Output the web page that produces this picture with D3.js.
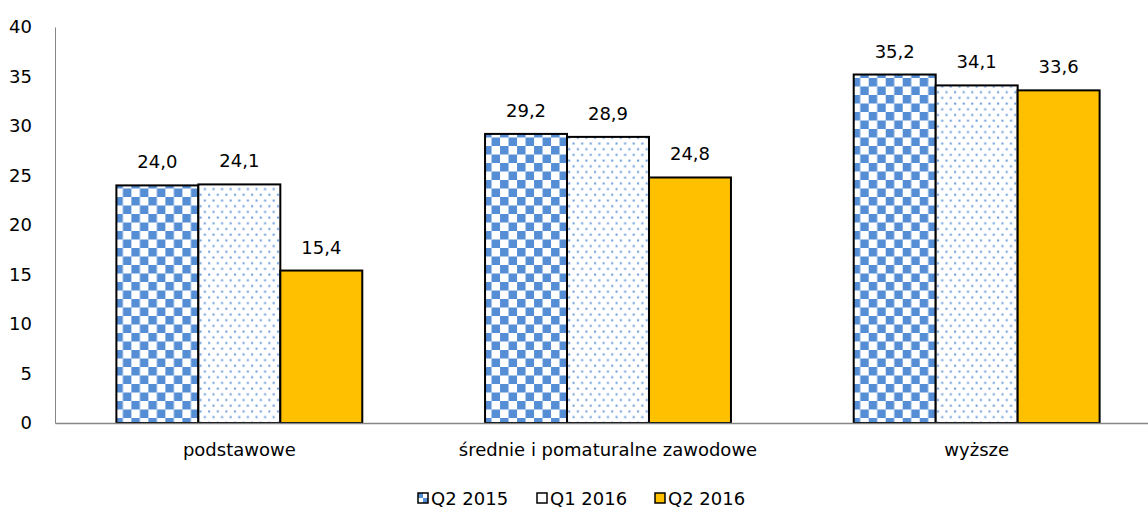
<!DOCTYPE html>
<html>
<head>
<meta charset="utf-8">
<script src="https://cdn.jsdelivr.net/npm/d3@7"></script>
<style>
  body { margin: 0; background: #fff; }
  svg text { font-family: "DejaVu Sans", Tahoma, sans-serif; fill: #000; }
</style>
</head>
<body>
<div class="chart"></div>
<script>
// dane
const categories = ['podstawowe', 'średnie i pomaturalne zawodowe', 'wyższe'];
const seriesNames = ['Q2 2015', 'Q1 2016', 'Q2 2016'];
const q2_2015 = [24.0, 29.2, 35.2];
const q1_2016 = [24.1, 28.9, 34.1];
const q2_2016 = [15.4, 24.8, 33.6];
const yTicks = [0, 5, 10, 15, 20, 25, 30, 35, 40];

const seriesValues = [q2_2015, q1_2016, q2_2016];

const svg_width = 1148;
const svg_height = 513;
const margin = {top: 27, right: -13, bottom: 90, left: 55};
const chart_height = svg_height - margin.top - margin.bottom;
const chart_width = svg_width - margin.left - margin.right;
const fontSize = '18px';

const svg = d3.select('.chart').append('svg')
    .attr('width', svg_width).attr('height', svg_height);

// wzory wypełnienia
const defs = svg.append('defs');
const checker = defs.append('pattern').attr('id', 'checker')
    .attr('patternUnits', 'userSpaceOnUse').attr('width', 17).attr('height', 17)
    .attr('x', 117).attr('y', 0);
checker.append('rect').attr('width', 17).attr('height', 17).attr('fill', '#fff');
checker.append('rect').attr('width', 8.5).attr('height', 8.5).attr('fill', '#558ED5');
checker.append('rect').attr('x', 8.5).attr('y', 8.5).attr('width', 8.5).attr('height', 8.5).attr('fill', '#558ED5');

// kropki w układzie przestawionym
const dots = defs.append('pattern').attr('id', 'dots')
    .attr('patternUnits', 'userSpaceOnUse').attr('width', 8.6).attr('height', 11.4);
dots.append('rect').attr('width', 8.6).attr('height', 11.4).attr('fill', '#fff');
dots.append('rect').attr('x', 1.5).attr('y', 1.5).attr('width', 2).attr('height', 2).attr('fill', '#6A9BDB');
dots.append('rect').attr('x', 5.8).attr('y', 7.2).attr('width', 2).attr('height', 2).attr('fill', '#6A9BDB');

// mały wzór do legendy
const legChecker = defs.append('pattern').attr('id', 'legChecker')
    .attr('patternUnits', 'objectBoundingBox').attr('width', 1).attr('height', 1);
legChecker.append('rect').attr('width', 10).attr('height', 10).attr('fill', '#fff');
legChecker.append('rect').attr('width', 5).attr('height', 5).attr('fill', '#558ED5');
legChecker.append('rect').attr('x', 5).attr('y', 5).attr('width', 5).attr('height', 5).attr('fill', '#558ED5');

const fills = ['url(#checker)', 'url(#dots)', '#FFC000'];
const legFills = ['url(#legChecker)', '#fff', '#FFC000'];

const g = svg.append('g').attr('transform', `translate(${margin.left},${margin.top})`);

const x0 = d3.scaleBand().domain(categories).range([0, chart_width]).paddingInner(0.333).paddingOuter(0.1665);
const x1 = d3.scaleBand().domain(seriesNames).range([0, x0.bandwidth()]);
const y = d3.scaleLinear().domain([0, 40]).range([chart_height, 0]);

// oś Y
const yAxis = d3.axisLeft(y).tickValues(yTicks).tickSize(0).tickPadding(23);
const yDraw = g.append('g').call(yAxis);
yDraw.select('.domain').attr('stroke', '#868686');
yDraw.selectAll('text').style('font-size', fontSize);

// słupki
const groups = g.selectAll('.grp').data(categories).enter().append('g')
    .attr('transform', d => `translate(${x0(d)},0)`);

groups.each(function(cat, ci) {
    const grp = d3.select(this);
    seriesNames.forEach((s, si) => {
        const v = seriesValues[si][ci];
        grp.append('rect')
            .attr('x', x1(s)).attr('y', y(v))
            .attr('width', x1.bandwidth()).attr('height', y(0) - y(v))
            .attr('fill', fills[si]).attr('stroke', '#000').attr('stroke-width', 2);
        grp.append('text')
            .attr('x', x1(s) + x1.bandwidth() / 2).attr('y', y(v) - 17)
            .attr('text-anchor', 'middle').style('font-size', fontSize)
            .text(d3.format('.1f')(v).replace('.', ','));
    });
});

// oś X
const xAxis = d3.axisBottom(x0).tickSize(0).tickPadding(20);
const xDraw = g.append('g').attr('transform', `translate(0,${chart_height})`).call(xAxis);
xDraw.select('.domain').attr('stroke', '#868686').attr('stroke-width', 1.5);
xDraw.selectAll('text').style('font-size', fontSize);

// legenda
const legend = svg.append('g').attr('transform', 'translate(418,493)');
const legX = [0, 119, 237];
seriesNames.forEach((s, i) => {
    const item = legend.append('g').attr('transform', `translate(${legX[i]},0)`);
    item.append('rect').attr('width', 10).attr('height', 10)
        .attr('fill', legFills[i])
        .attr('stroke', '#000').attr('stroke-width', 1.5);
    item.append('text').attr('x', 13).attr('y', 12).style('font-size', fontSize).text(s);
});
</script>
</body>
</html>
